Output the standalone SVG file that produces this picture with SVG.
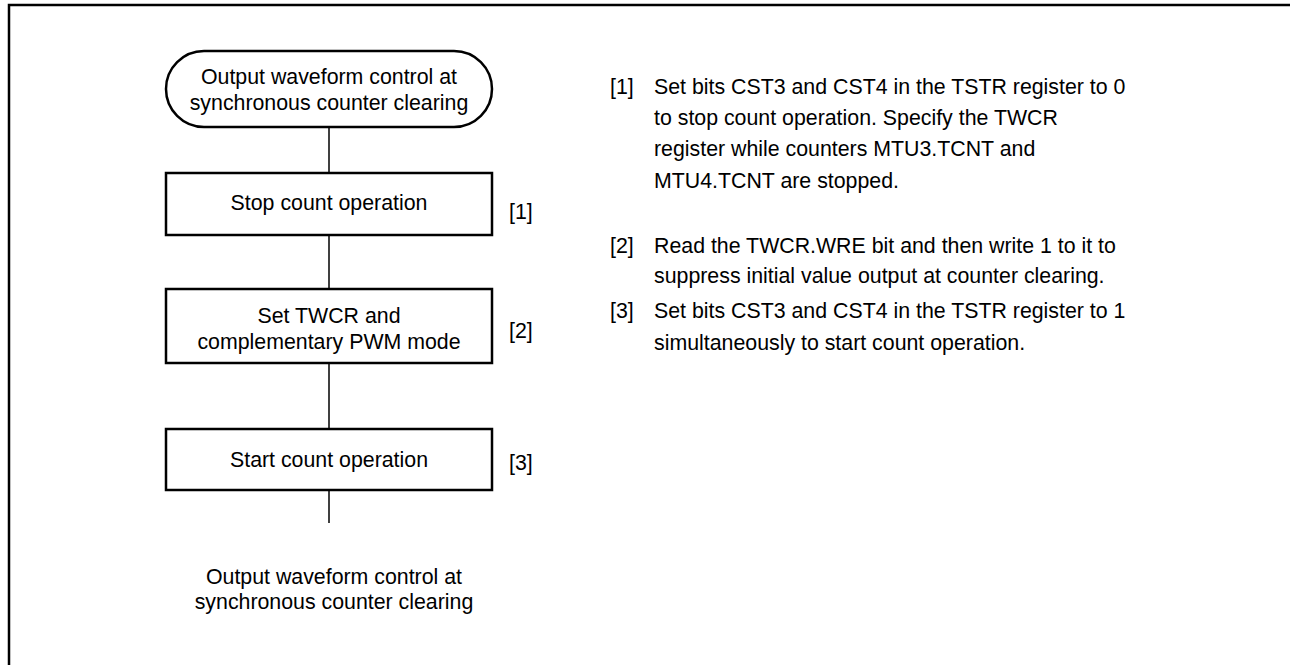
<svg xmlns="http://www.w3.org/2000/svg" width="1290" height="665" viewBox="0 0 1290 665">
<style>
text{font-family:"Liberation Sans",Arial,sans-serif;font-size:21.33px;fill:#000}
.c{text-anchor:middle}
.box{fill:#fff;stroke:#000;stroke-width:2.5}
.ln{stroke:#000;stroke-width:1.5;fill:none}
</style>
<rect x="0" y="0" width="1290" height="665" fill="#fff"/>
<path d="M9,670 V5 H1295" fill="none" stroke="#000" stroke-width="2.5"/>
<g id="connectors">
<line class="ln" x1="329" y1="127" x2="329" y2="173"/>
<line class="ln" x1="329" y1="235" x2="329" y2="289"/>
<line class="ln" x1="329" y1="363" x2="329" y2="429"/>
<line class="ln" x1="329" y1="490" x2="329" y2="523"/>
</g>
<g id="start">
<rect class="box" x="166" y="51" width="326" height="76" rx="38" ry="38"/>
<text class="c" x="329" y="84">Output waveform control at</text>
<text class="c" x="329" y="110">synchronous counter clearing</text>
</g>
<g id="step1">
<rect class="box" x="166" y="173" width="326" height="62"/>
<text class="c" x="329" y="210">Stop count operation</text>
<text x="509" y="219">[1]</text>
</g>
<g id="step2">
<rect class="box" x="166" y="289" width="326" height="74"/>
<text class="c" x="329" y="323">Set TWCR and</text>
<text class="c" x="329" y="349">complementary PWM mode</text>
<text x="509" y="338">[2]</text>
</g>
<g id="step3">
<rect class="box" x="166" y="429" width="326" height="61"/>
<text class="c" x="329" y="467">Start count operation</text>
<text x="509" y="470">[3]</text>
</g>
<g id="end">
<text class="c" x="334" y="584">Output waveform control at</text>
<text class="c" x="334" y="609">synchronous counter clearing</text>
</g>
<g id="notes">
<text x="610" y="94">[1]</text>
<text x="654" y="94">Set bits CST3 and CST4 in the TSTR register to 0</text>
<text x="654" y="125">to stop count operation. Specify the TWCR</text>
<text x="654" y="156">register while counters MTU3.TCNT and</text>
<text x="654" y="188">MTU4.TCNT are stopped.</text>
<text x="610" y="253">[2]</text>
<text x="654" y="253">Read the TWCR.WRE bit and then write 1 to it to</text>
<text x="654" y="283">suppress initial value output at counter clearing.</text>
<text x="610" y="318">[3]</text>
<text x="654" y="318">Set bits CST3 and CST4 in the TSTR register to 1</text>
<text x="654" y="350">simultaneously to start count operation.</text>
</g>
</svg>
